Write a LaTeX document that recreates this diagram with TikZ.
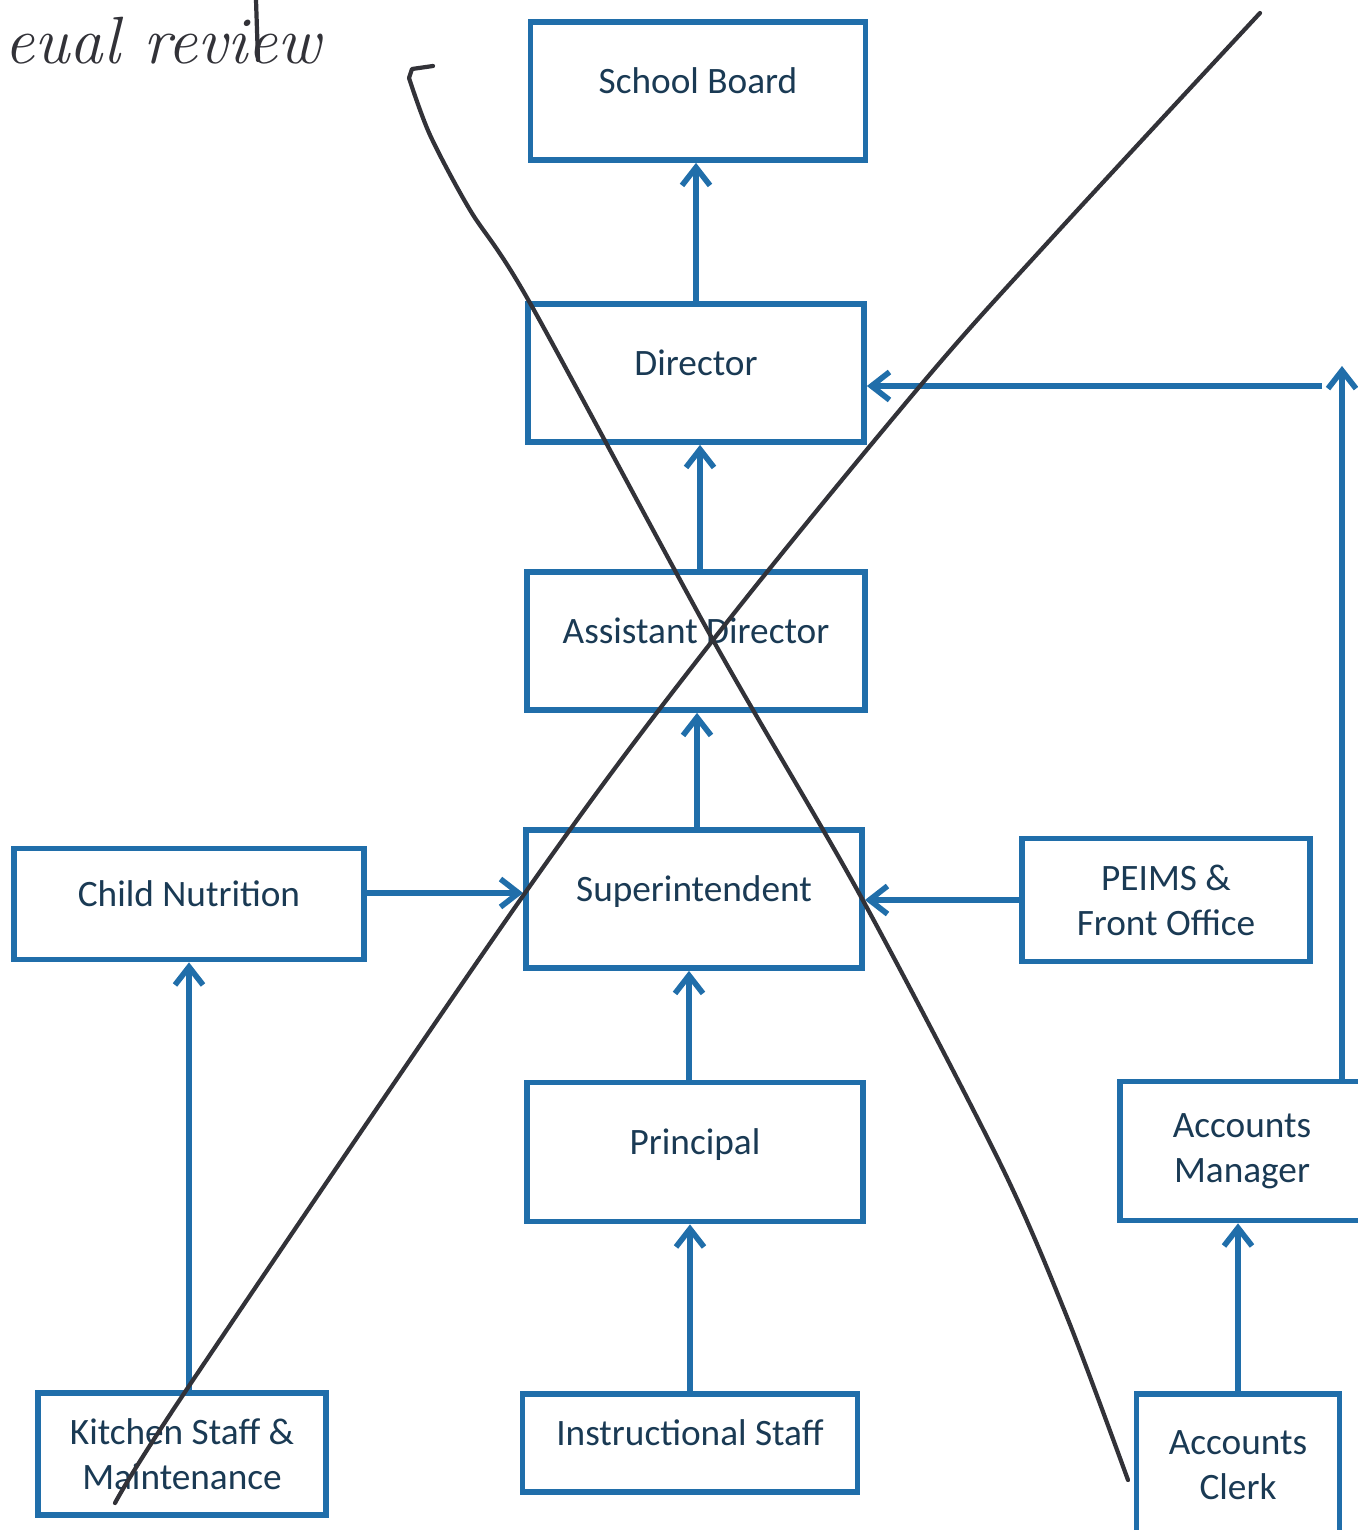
\documentclass[tikz,border=0pt]{standalone}
\usepackage{fontspec}
\usepackage{tikz}
\usetikzlibrary{positioning,arrows.meta,calc}
\newfontfamily\orgfont{Carlito}
\definecolor{orgBlue}{RGB}{32,110,170}
\definecolor{orgInk}{RGB}{26,58,84}
\definecolor{penGray}{RGB}{50,50,56}

\begin{document}
\begin{tikzpicture}[
    x=0.01cm, y=-0.01cm,
    orgbox/.style={draw=orgBlue, line width=1.6pt, fill=white, text=orgInk,
      font=\orgfont\fontsize{10.6}{12.8}\selectfont, align=center, inner sep=0pt},
    oneline/.style={text height=0.26cm, text depth=0.22cm},
    reports/.style={draw=orgBlue, line width=1.6pt, -{Straight Barb[length=1.8mm,width=2.8mm]}},
    strike/.style={draw=penGray, line width=1.2pt, line cap=round, line join=round},
    scrawl/.style={text=penGray, font=\fontsize{19}{19}\selectfont\itshape, inner sep=0pt}
]
  \useasboundingbox (0,0) rectangle (1357,1530);

  % chain of command
  \node[orgbox, oneline, minimum width=3.35cm, minimum height=1.38cm] (board) at (698,91) {School Board};
  \node[orgbox, oneline, minimum width=3.36cm, minimum height=1.38cm] (director) at (696,373) {Director};
  \node[orgbox, oneline, minimum width=3.38cm, minimum height=1.38cm] (asst) at (696,641) {Assistant Director};
  \node[orgbox, oneline, minimum width=3.36cm, minimum height=1.38cm] (super) at (694,899) {Superintendent};
  \node[orgbox, oneline, minimum width=3.36cm, minimum height=1.39cm] (principal) at (695,1152) {Principal};
  \node[orgbox, oneline, minimum width=3.35cm, minimum height=0.98cm] (instr) at (690,1443) {Instructional Staff};

  % side branches
  \node[orgbox, oneline, minimum width=3.50cm, minimum height=1.11cm] (nutrition) at (189,904) {Child Nutrition};
  \node[orgbox, minimum width=2.88cm, minimum height=1.23cm] (peims) at (1166,900) {PEIMS \&\\Front Office};
  \node[orgbox, minimum width=2.88cm, minimum height=1.22cm] (kitchen) at (182,1454) {Kitchen Staff \&\\Maintenance};
  \node[orgbox, minimum width=2.44cm, minimum height=1.39cm] (manager) at (1242,1151) {Accounts\\Manager};
  \node[orgbox, minimum width=2.03cm, minimum height=1.42cm] (clerk) at (1238,1465) {Accounts\\Clerk};

  \coordinate (upEnd) at (1342,366);
  \coordinate (feedStart) at (1322,386);

  \draw[reports] (director.north) -- (director.north |- board.south);
  \draw[reports] ([xshift=0.4mm]asst.north) -- ([xshift=0.4mm]asst.north |- director.south);
  \draw[reports] ([xshift=0.3mm]super.north) -- ([xshift=0.3mm]super.north |- asst.south);
  \draw[reports] ([xshift=-0.6mm]principal.north) -- ([xshift=-0.6mm]principal.north |- super.south);
  \draw[reports] (instr.north) -- (instr.north |- principal.south);
  \draw[reports] ([yshift=1.1mm]nutrition.east) -- ([yshift=1.1mm]nutrition.east -| super.west);
  \draw[reports] (peims.west) -- (peims.west -| super.east);
  \draw[reports] (nutrition.south |- kitchen.north) -- (nutrition.south);
  \draw[reports] (clerk.north) -- (clerk.north |- manager.south);
  \draw[reports] (upEnd |- manager.north) -- (upEnd);
  \draw[reports] (feedStart) -- (feedStart -| director.east);

  % pen marks over the chart
  \node[scrawl, anchor=base west] (note) at (4,64) {eual review};
  \draw[strike] (256,0) -- (258,60);
  \draw[strike] (433,66) -- (412,69) -- (409,78)
    plot[smooth, tension=0.5] coordinates {(409,78) (430,135) (470,210) (530,303) (713,640)
      (860,895) (1000,1163) (1067,1317) (1128,1480)};
  \draw[strike] plot[smooth, tension=0.55] coordinates {(115,1503) (193,1380) (525,893)
      (713,640) (920,386) (1050,240) (1260,13)};
\end{tikzpicture}
\end{document}
